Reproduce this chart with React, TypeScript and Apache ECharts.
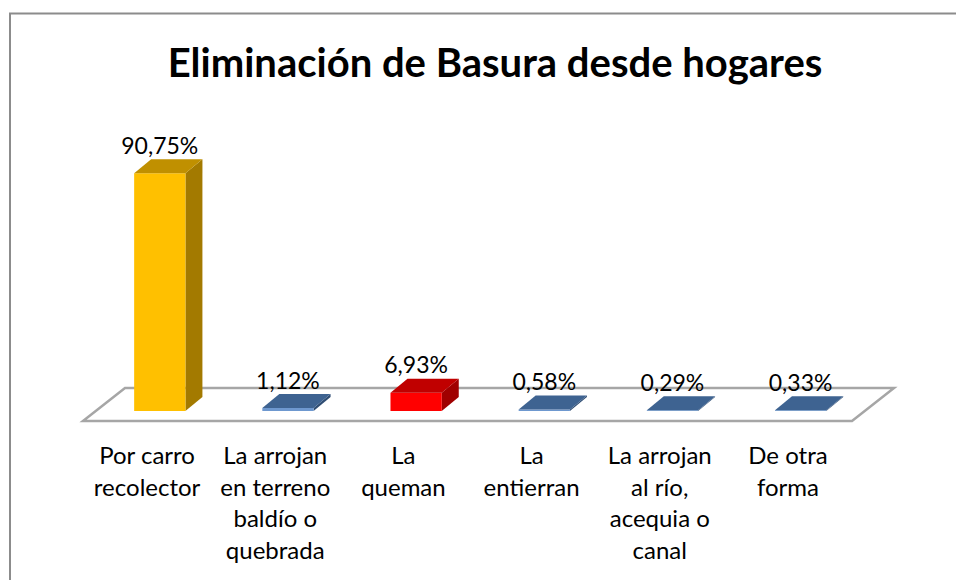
import React, { useEffect, useRef } from "react";
import * as echarts from "echarts";

const categories = [
  "Por carro\nrecolector",
  "La arrojan\nen terreno\nbaldío o\nquebrada",
  "La\nqueman",
  "La\nentierran",
  "La arrojan\nal río,\nacequia o\ncanal",
  "De otra\nforma",
];
const values = [90.75, 1.12, 6.93, 0.58, 0.29, 0.33];
const valueLabels = ["90,75%", "1,12%", "6,93%", "0,58%", "0,29%", "0,33%"];
const palette = ["yellow", "blue", "red", "blue", "blue", "blue"];

const faceColors: Record<string, { front: string; top: string; side: string }> = {
  yellow: { front: "#FFC000", top: "#C09000", side: "#A37A00" },
  blue: { front: "#6E98CF", top: "#3E6391", side: "#2F4D73" },
  red: { front: "#FF0000", top: "#C00000", side: "#A00000" },
};

const FONT = "Lato, 'Noto Sans', sans-serif";

export default function App() {
  const ref = useRef<HTMLDivElement>(null);
  useEffect(() => {
    if (!ref.current) return;
    const chart = echarts.init(ref.current, null, { renderer: "svg" });
    const floorDX = 42;
    const floorDY = -33;
    const barOffX = 12.7;
    const barOffY = -10;
    const depthDX = 17;
    const depthDY = -14;

    chart.setOption({
      animation: false,
      backgroundColor: "#ffffff",
      title: {
        text: "Eliminación de Basura desde hogares",
        left: 490,
        top: 37,
        textAlign: "center",
        textStyle: { fontFamily: FONT, fontWeight: "bold", fontSize: 40, color: "#000" },
      },
      graphic: [
        {
          type: "rect",
          shape: { x: 10, y: 13.5, width: 1000, height: 1000 },
          style: { fill: "none", stroke: "#8c8c8c", lineWidth: 2 },
          silent: true,
        },
      ],
      grid: { left: 83, right: 104, top: 159, bottom: 159 },
      xAxis: {
        type: "category",
        data: categories,
        axisLine: { show: false },
        axisTick: { show: false },
        axisLabel: {
          interval: 0,
          margin: 18,
          fontFamily: FONT,
          fontSize: 24,
          lineHeight: 31.5,
          color: "#000",
          align: "center",
        },
      },
      yAxis: {
        type: "value",
        min: 0,
        max: 100,
        show: false,
      },
      series: [
        {
          type: "custom",
          z: 1,
          data: [[0, 0]],
          renderItem: (params: any) => {
            const cs = params.coordSys;
            const x = cs.x;
            const yb = cs.y + cs.height;
            const w = cs.width;
            return {
              type: "polygon",
              shape: {
                points: [
                  [x, yb],
                  [x + w, yb],
                  [x + w + floorDX, yb + floorDY],
                  [x + floorDX, yb + floorDY],
                ],
              },
              style: { fill: "#ffffff", stroke: "#a6a6a6", lineWidth: 2.5 },
            };
          },
        },
        {
          type: "custom",
          z: 2,
          data: values.map((v, i) => [i, v]),
          renderItem: (params: any, api: any) => {
            const i = api.value(0);
            const v = api.value(1);
            const base = api.coord([i, 0]);
            const topPt = api.coord([i, v]);
            const band = api.size([1, 0])[0];
            const w = band * 0.4;
            const x0 = base[0] - w / 2 + barOffX;
            const yb = base[1] + barOffY;
            const yt = topPt[1] + barOffY;
            const c = faceColors[palette[params.dataIndex]];
            return {
              type: "group",
              children: [
                {
                  type: "polygon",
                  shape: {
                    points: [
                      [x0 + w, yb],
                      [x0 + w, yt],
                      [x0 + w + depthDX, yt + depthDY],
                      [x0 + w + depthDX, yb + depthDY],
                    ],
                  },
                  style: { fill: c.side },
                },
                {
                  type: "rect",
                  shape: { x: x0, y: yt, width: w, height: Math.max(yb - yt, 0.5) },
                  style: { fill: c.front },
                },
                {
                  type: "polygon",
                  shape: {
                    points: [
                      [x0, yt],
                      [x0 + w, yt],
                      [x0 + w + depthDX, yt + depthDY],
                      [x0 + depthDX, yt + depthDY],
                    ],
                  },
                  style: { fill: c.top },
                },
                {
                  type: "text",
                  x: x0 + w / 2,
                  y: yt + depthDY - 3,
                  style: {
                    text: valueLabels[params.dataIndex],
                    fontFamily: FONT,
                    fontSize: 23,
                    fill: "#000",
                    align: "center",
                    verticalAlign: "bottom",
                  },
                },
              ],
            };
          },
        },
      ],
    });
    return () => chart.dispose();
  }, []);
  return (
    <div
      ref={ref}
      style={{ position: "fixed", left: 0, top: 0, width: 956, height: 580 }}
    />
  );
}
